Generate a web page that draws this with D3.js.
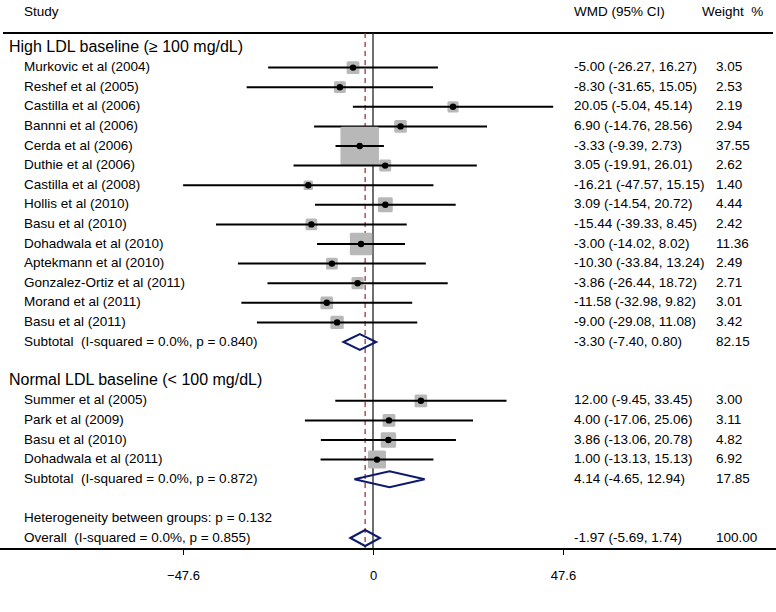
<!DOCTYPE html>
<html><head><meta charset="utf-8">
<script src="https://cdn.jsdelivr.net/npm/d3@7"></script>
<style>body{margin:0;background:#fff}svg{display:block}text{font-family:"Liberation Sans",Arial,sans-serif;fill:#000}</style>
</head><body><svg id="c" width="776" height="612"></svg>
<script>
const groupHigh = "High LDL baseline (\u2265 100 mg/dL)";
const groupNormal = "Normal LDL baseline (< 100 mg/dL)";
const highStudies = ["Murkovic et al (2004)","Reshef et al (2005)","Castilla et al (2006)","Bannni et al (2006)","Cerda et al (2006)","Duthie et al (2006)","Castilla et al (2008)","Hollis et al (2010)","Basu et al (2010)","Dohadwala et al (2010)","Aptekmann et al (2010)","Gonzalez-Ortiz et al (2011)","Morand et al (2011)","Basu et al (2011)"];
const highEst = [-5.00,-8.30,20.05,6.90,-3.33,3.05,-16.21,3.09,-15.44,-3.00,-10.30,-3.86,-11.58,-9.00];
const highLo  = [-26.27,-31.65,-5.04,-14.76,-9.39,-19.91,-47.57,-14.54,-39.33,-14.02,-33.84,-26.44,-32.98,-29.08];
const highHi  = [16.27,15.05,45.14,28.56,2.73,26.01,15.15,20.72,8.45,8.02,13.24,18.72,9.82,11.08];
const highW   = [3.05,2.53,2.19,2.94,37.55,2.62,1.40,4.44,2.42,11.36,2.49,2.71,3.01,3.42];
const normalStudies = ["Summer et al (2005)","Park et al (2009)","Basu et al (2010)","Dohadwala et al (2011)"];
const normalEst = [12.00,4.00,3.86,1.00];
const normalLo  = [-9.45,-17.06,-13.06,-13.13];
const normalHi  = [33.45,25.06,20.78,15.13];
const normalW   = [3.00,3.11,4.82,6.92];
const subtotalLabels = ["Subtotal  (I-squared = 0.0%, p = 0.840)","Subtotal  (I-squared = 0.0%, p = 0.872)"];
const subtotalEst = [-3.30,4.14];
const subtotalLo = [-7.40,-4.65];
const subtotalHi = [0.80,12.94];
const subtotalW = [82.15,17.85];
const hetLabel = "Heterogeneity between groups: p = 0.132";
const overallLabel = "Overall  (I-squared = 0.0%, p = 0.855)";
const overall = {est:-1.97, lo:-5.69, hi:1.74, w:100.00};
const tickValues = [-47.6, 0, 47.6];

// build rows
const rows = [];
rows.push({type:"group", label:groupHigh});
highStudies.forEach((s,i)=>rows.push({type:"study",label:s,est:highEst[i],lo:highLo[i],hi:highHi[i],w:highW[i]}));
rows.push({type:"sub",label:subtotalLabels[0],est:subtotalEst[0],lo:subtotalLo[0],hi:subtotalHi[0],w:subtotalW[0]});
rows.push({type:"blank"});
rows.push({type:"group", label:groupNormal});
normalStudies.forEach((s,i)=>rows.push({type:"study",label:s,est:normalEst[i],lo:normalLo[i],hi:normalHi[i],w:normalW[i]}));
rows.push({type:"sub",label:subtotalLabels[1],est:subtotalEst[1],lo:subtotalLo[1],hi:subtotalHi[1],w:subtotalW[1]});
rows.push({type:"blank"});
rows.push({type:"text",label:hetLabel});
rows.push({type:"sub",label:overallLabel,est:overall.est,lo:overall.lo,hi:overall.hi,w:overall.w});

const svg = d3.select("#c");
const x = d3.scaleLinear().domain([-47.6,47.6]).range([183,563]);
const y = d3.scalePoint().domain(d3.range(rows.length)).range([48,538]);
const topY = 33, axisY = 549;
const f = d => d.toFixed(2);
const FS = "13.5px";
const colLabel = 24, colWmd = 574, colW = 716;

function txt(xx, yy, s, size){
  return svg.append("text").attr("x",xx).attr("y",yy).attr("dominant-baseline","middle").style("font-size",size||FS).text(s);
}

// header
txt(colLabel,12,"Study");
txt(colWmd,12,"WMD (95% CI)");
txt(702,12,"Weight  %").style("white-space","pre");
svg.append("line").attr("x1",3).attr("x2",773).attr("y1",topY).attr("y2",topY).attr("stroke","#000").attr("stroke-width",2);

// zero line & overall dashed line
svg.append("line").attr("x1",x(0)).attr("x2",x(0)).attr("y1",topY).attr("y2",axisY).attr("stroke","#222").attr("stroke-width",1.3);
svg.append("line").attr("x1",x(overall.est)).attr("x2",x(overall.est)).attr("y1",topY).attr("y2",axisY)
  .attr("stroke","#9b3a3a").attr("stroke-width",1.3).attr("stroke-dasharray","5,4");

const sq = d3.scaleSqrt().domain([0,37.55]).range([0,36]);

rows.forEach((r,i)=>{
  const yy = y(i);
  if(r.type==="group"){
    txt(9,yy,r.label,"16px");
  } else if(r.type==="study"){
    txt(colLabel,yy,r.label);
    const s = sq(r.w) + 2.5;
    svg.append("rect").attr("x",x(r.est)-s/2).attr("y",yy-s/2).attr("width",s).attr("height",s).attr("rx",1.5).attr("fill","#b8b8b8");
    svg.append("line").attr("x1",x(r.lo)).attr("x2",x(r.hi)).attr("y1",yy).attr("y2",yy).attr("stroke","#000").attr("stroke-width",2);
    svg.append("circle").attr("cx",x(r.est)).attr("cy",yy).attr("r",3.2).attr("fill","#000");
    txt(colWmd,yy,`${f(r.est)} (${f(r.lo)}, ${f(r.hi)})`);
    txt(colW,yy,f(r.w));
  } else if(r.type==="sub"){
    txt(colLabel,yy,r.label).style("white-space","pre");
    const h=8;
    svg.append("path").attr("d",`M${x(r.lo)},${yy}L${x(r.est)},${yy-h}L${x(r.hi)},${yy}L${x(r.est)},${yy+h}Z`)
      .attr("fill","none").attr("stroke","#0d1a6e").attr("stroke-width",2);
    txt(colWmd,yy,`${f(r.est)} (${f(r.lo)}, ${f(r.hi)})`);
    txt(colW,yy,f(r.w));
  } else if(r.type==="text"){
    txt(colLabel,yy,r.label);
  }
});

// axis
svg.append("line").attr("x1",0).attr("x2",776).attr("y1",axisY).attr("y2",axisY).attr("stroke","#000").attr("stroke-width",2);
const ax = svg.append("g").attr("transform",`translate(0,${axisY})`)
  .call(d3.axisBottom(x).tickValues(tickValues).tickSize(6).tickPadding(16).tickFormat(d=>d===0?"0":d3.format(".1f")(d)));
ax.select(".domain").remove();
ax.selectAll("text").style("font-size","13px").style("font-family",'"Liberation Sans",Arial,sans-serif');
ax.selectAll("line").attr("stroke","#000");
</script></body></html>
